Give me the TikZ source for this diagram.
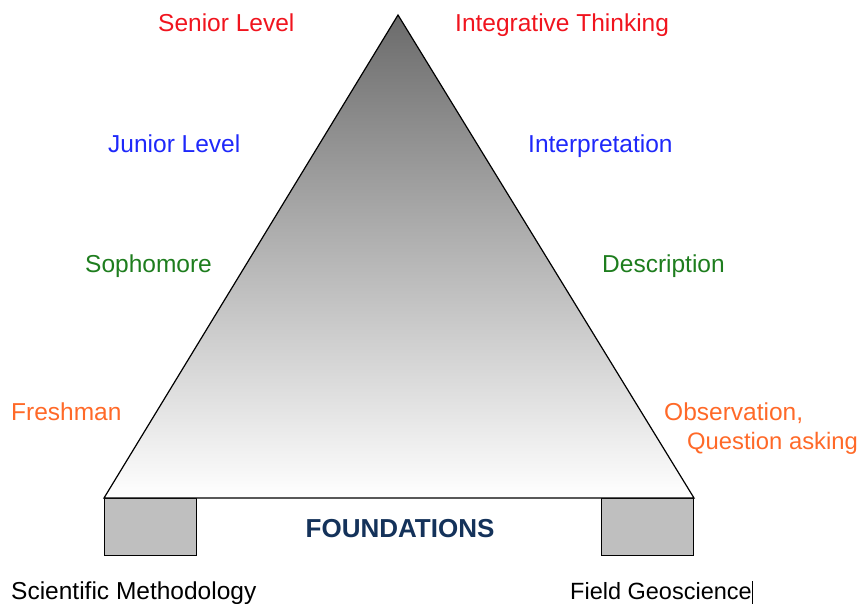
\documentclass[tikz,border=0pt]{standalone}
\usepackage{fontspec}
\setmainfont{Liberation Sans}
\usepackage{tikz}
\usetikzlibrary{positioning}

\definecolor{senior}{RGB}{240,20,30}
\definecolor{junior}{RGB}{30,40,250}
\definecolor{soph}{RGB}{30,125,30}
\definecolor{fresh}{RGB}{255,105,40}
\definecolor{navy}{RGB}{20,50,90}

\begin{document}
\begin{tikzpicture}[
    x=1pt, y=-1pt,
    every node/.style={inner sep=0pt, font=\fontsize{24.5}{28}\selectfont},
    lbl/.style={anchor=base west},
    pillar/.style={draw, line width=1.2pt, fill=gray!50, minimum width=92pt, minimum height=57pt, anchor=north west}
]
\useasboundingbox (0,0) rectangle (862,603);

\coordinate (apex) at (398,15);
\coordinate (bl) at (104,498);
\coordinate (br) at (694,498);

% pillars under the base
\node[pillar] (sqL) at (bl) {};
\node[pillar, anchor=north east] (sqR) at (br) {};

\shade[top color=black!58, bottom color=white, draw=black, line width=1.2pt]
  (apex) -- (br) -- (bl) -- cycle;

% levels (left) and skills (right)
\node[lbl, text=senior] (sen) at (158,31) {Senior Level};
\node[lbl, text=senior] (intg) at (455,31) {Integrative Thinking};
\node[lbl, text=junior] (jun) at (108,152) {Junior Level};
\node[lbl, text=junior] (intp) at (528,152) {Interpretation};
\node[lbl, text=soph] (sop) at (85,272) {Sophomore};
\node[lbl, text=soph] (desc) at (602,272) {Description};
\node[lbl, text=fresh] (fre) at (11,420) {Freshman};
\node[lbl, text=fresh] (obs) at (664,420) {Observation,};
\node[lbl, text=fresh, font=\fontsize{23.8}{28}\selectfont] (qa) at (687,449) {Question asking};

\node[font=\fontsize{26}{30}\selectfont\bfseries, text=navy, anchor=base] (fnd) at (400,537) {FOUNDATIONS};

\node[lbl] (sci) at (11,599) {Scientific Methodology};
\node[lbl, font=\fontsize{23.5}{28}\selectfont] (fld) at (570,599) {Field Geoscience\rule[-5pt]{0.8pt}{23pt}};
\end{tikzpicture}
\end{document}
